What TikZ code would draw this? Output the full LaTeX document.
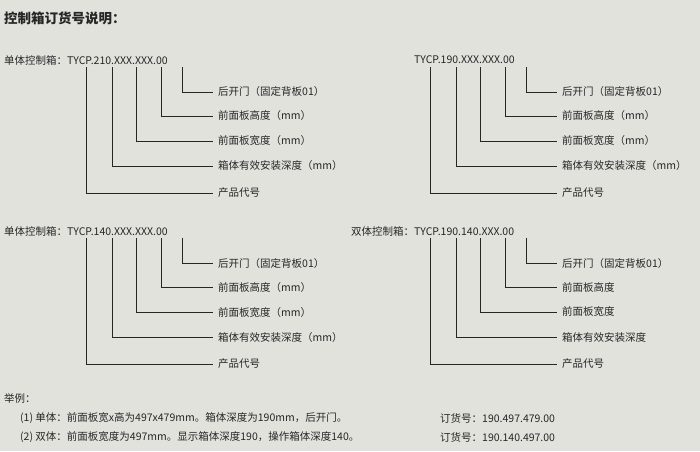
\documentclass[tikz,border=0pt]{standalone}
\usepackage{fontspec}
\setmainfont{Noto Sans CJK SC}
\definecolor{bg}{RGB}{226,226,221}
\begin{document}
\begin{tikzpicture}[x=1pt,y=-1pt,
  txt/.style={anchor=west,inner sep=0pt,font=\fontsize{10.5}{12}\selectfont,text=black!85},
  ln/.style={draw=black!85,line width=0.9pt}]
\fill[bg] (0,0) rectangle (700,451);
\useasboundingbox (0,0) rectangle (700,451);
\node[txt,font=\fontsize{13.5}{15}\selectfont\bfseries] (title) at (4,18) {控制箱订货号说明：};
\newcommand\myblk[9]{%
  \node[txt] (h) at (#3,#2+60) {#4};
  \foreach \lx/\ly/\lt in {182/92/{#5},161/116/{#6},136/141/{#7},112/166/{#8},86/193/{#9}}{
    \node[txt] (lab) at (#1+218,#2+\ly) {\lt};
    \coordinate (top) at (#1+\lx,#2+67);
    \draw[ln] (top) |- ([xshift=-5pt]lab.west);
  }}
\myblk{0}{0}{4}{单体控制箱：TYCP.210.XXX.XXX.00}{后开门（固定背板01）}{前面板高度（mm）}{前面板宽度（mm）}{箱体有效安装深度（mm）}{产品代号}
\myblk{344}{0}{414}{TYCP.190.XXX.XXX.00}{后开门（固定背板01）}{前面板高度（mm）}{前面板宽度（mm）}{箱体有效安装深度（mm）}{产品代号}
\myblk{0}{171}{4}{单体控制箱：TYCP.140.XXX.XXX.00}{后开门（固定背板01）}{前面板高度（mm）}{前面板宽度（mm）}{箱体有效安装深度（mm）}{产品代号}
\myblk{344}{171}{351}{双体控制箱：TYCP.190.140.XXX.00}{后开门（固定背板01）}{前面板高度}{前面板宽度}{箱体有效安装深度}{产品代号}
\node[txt] (ex) at (4,398) {举例：};
\node[txt] (e1) at (20,418) {(1) 单体：前面板宽x高为497x479mm。箱体深度为190mm，后开门。};
\node[txt] (e2) at (20,437) {(2) 双体：前面板宽度为497mm。显示箱体深度190，操作箱体深度140。};
\node[txt] (o1) at (440,418) {订货号：190.497.479.00};
\node[txt] (o2) at (440,437) {订货号：190.140.497.00};
\end{tikzpicture}
\end{document}
